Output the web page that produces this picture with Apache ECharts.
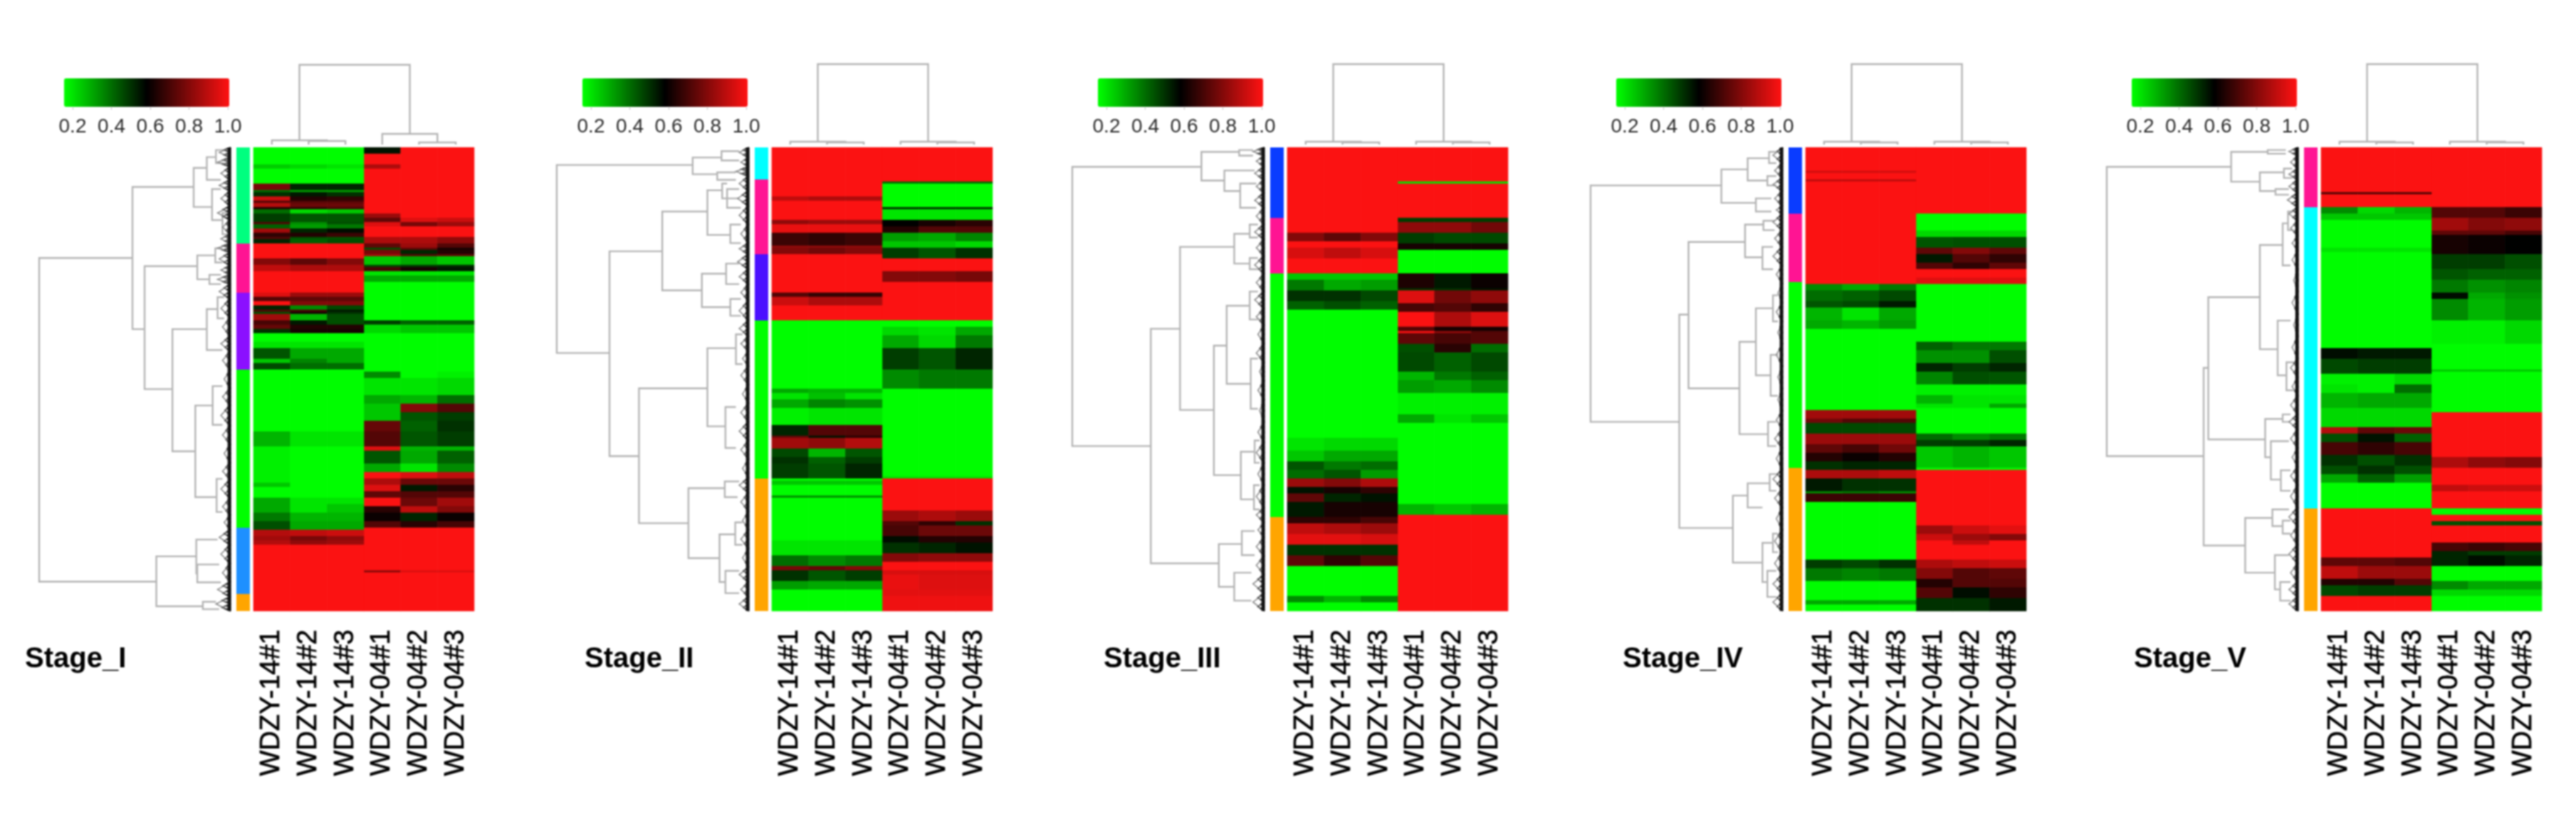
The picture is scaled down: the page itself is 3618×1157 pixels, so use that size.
<!DOCTYPE html>
<html><head><meta charset="utf-8">
<style>html,body{margin:0;padding:0;background:#fff}#c{width:3618px;height:1157px}canvas{filter:blur(0.8px)}</style>
<script src="https://cdn.jsdelivr.net/npm/echarts@6/dist/echarts.min.js"></script>
</head><body><div id="c"></div>
<script>
const sampleLabels=['WDZY-14#1','WDZY-14#2','WDZY-14#3','WDZY-04#1','WDZY-04#2','WDZY-04#3'];
const stageNames=['Stage_I','Stage_II','Stage_III','Stage_IV','Stage_V'];
const colorbarTicks=[0.2,0.4,0.6,0.8,1.0];
const G=0.16;
// heat bands: [band end along the row axis, value col A, col B, col C]; one value = same in all three
const s1Left=[[331,G],[341,.24,.22,.2],[382,G],[395,.78,.52,.52],[405,.4,.32,.32],[414,.5,.54,.5],[427,.92,.64,.66],[433,.72],[443,.88,.76,.76],[449,.64,.66,.7],[462,.4,.22,.25],[484,.48,.44,.44],[491,.72,.35,.45],[503,.42,.32,.38],[513,.85,.52,.56],[526,.66,.64,.68],[532,.72,.44,.44],[541,.52,.42,.45],[583,1],[599,.8,.74,.8],[615,.9,.87,.87],[676,1],[685,.95,.84,.84],[695,.72,.74,.74],[707,1,.8,.8],[717,.52,.35,.46],[723,.72,.7,.54],[733,.45,.62,.5],[746,.85,.28,.45],[758,.7,.54,.45],[771,.75,.64,.64],[784,.5,.62,.62],[803,G],[823,.2],[851,.44,.3,.3],[863,.25,.36,.3],[882,.46,.4,.4],[1044,G],[1085,.28,.2,.2],[1181,.18,G,G],[1197,.25,G,G],[1222,G],[1242,.3,.2,.2],[1262,.3,.2,.25],[1286,.38,.28,.28],[1309,.45,.3,.3],[1326,.88,.9,.92],[1338,.85,.78,.82],[1350,.88,.82,.84],[1528,1]];
const s1Right=[[300,.55,1,1],[328,1],[341,.87,1,1],[462,1],[475,.84,1,1],[481,.74,.95,.92],[497,.95,.78,.84],[526,1],[542,.87,.87,.82],[551,.74,.84,.72],[561,.45,.74,.62],[567,.78,.52,.64],[577,.85,.72,.74],[596,.25,.3,.25],[605,.46,.48,.5],[615,.7,.62,.54],[628,.2],[644,.3],[749,G],[762,.48,.42,.42],[784,.22,.25,.25],[883,G],[904,.35,G,.18],[948,.2,.2,.22],[972,.3,.28,.4],[992,.25,.8,.72],[1020,.25,.44,.48],[1044,.75,.42,.5],[1085,.72,.44,.48],[1097,.95,.28,.28],[1133,.44,.3,.42],[1156,.3,.2,.35],[1173,1,.95,.9],[1189,.87,.76,.76],[1206,.95,.54,.65],[1222,.74,.72,.72],[1246,1,.76,.85],[1262,.65,.9,.8],[1286,.6,.52,.6],[1306,.72,.65,.7],[1420,1],[1426,.82,.95,.95],[1528,1]];
const s2Left=[[415,1],[425,.9,.87,.87],[478,1],[492,.82,.84,.84],[515,.97],[545,.68,.66,.68],[550,.82],[570,.8,.77,.8],[672,1],[682,.72,.67,.67],[708,.92,.87,.87],[748,1],[930,G],[945,.3,.28,.28],[960,.2,.26,.2],[985,.3,.36,.34],[1030,.18,.2,.2],[1055,.52,.72,.72],[1065,.75,.55,.65],[1090,.85,.82,.88],[1115,.46,.28,.44],[1130,.5,.42,.48],[1170,.48,.44,.52],[1180,G],[1190,.25],[1220,G],[1226,.35],[1340,G],[1380,.2],[1405,.4,.35,.38],[1420,.78,.75,.8],[1445,.5,.44,.48],[1470,.32,.3,.3],[1528,G]];
const s2Right=[[372,1],[380,.4],[442,G],[450,.5],[478,.2],[495,.58,.62,.65],[515,.64,.72,.72],[535,.32,.3,.36],[555,.25,.25,.22],[580,.48,.44,.5],[618,1],[642,.8,.8,.78],[748,1],[765,G],[790,.22,.2,.3],[825,.3,.22,.38],[880,.48,.44,.52],[930,.35,.38,.38],[1165,G],[1172,.2],[1260,1],[1285,.84,.87,.84],[1300,.72,.66,.5],[1325,.7,.76,.76],[1345,.56,.64,.64],[1375,.5,.52,.55],[1395,.8,.82,.82],[1420,1],[1430,.94],[1470,.97,.95,.95],[1490,.96],[1528,.98]];
const s3Left=[[512,1],[535,.8,.74,.8],[550,1],[580,.94,.9,.94],[622,1],[640,.25],[670,.38,.3,.32],[695,.5,.5,.46],[720,.42,.45,.42],[1065,G],[1095,.2,.22,.22],[1125,.25,.3,.3],[1150,.44,.38,.4],[1172,.4,.44,.32],[1195,.84,.8,.87],[1215,.55,.62,.66],[1235,.74,.52,.55],[1275,.54,.62,.62],[1290,.66,.66,.7],[1320,.9,.87,.84],[1348,.96,.96,.94],[1380,.5],[1410,.74,.66,.72],[1490,G],[1505,.35,.28,.35],[1528,G]];
const s3Right=[[372,1],[380,.2],[472,1],[485,.48],[512,.82,.82,.77],[540,.48,.46,.46],[558,.62],[622,G],[660,.63,.54,.6],[670,.5,.5,.55],[700,.95,.77,.82],[725,.7,.72,.66],[765,1,.87,.95],[775,.72,.62,.62],[785,1,.82,.72],[810,.74,.7,.72],[835,.45,.65,.4],[885,.46,.42,.46],[910,.28,.38,.42],[945,.32,.3,.35],[1000,.18],[1025,.3,.2,.25],[1240,G],[1272,.28,.25,.28],[1528,1]];
const s4Left=[[345,1],[350,.93],[368,1],[372,.9],[545,1],[548,.9],[650,1],[670,.35,.3,.38],[695,.4,.42,.46],[715,.44,.46,.54],[745,.28,.2,.3],[770,.3,.28,.32],[990,G],[1010,.85],[1025,.77,.72,.72],[1050,.46],[1080,.84],[1105,.74,.7,.77],[1125,.64,.6,.64],[1148,.5,.52,.52],[1170,.87,.87,.9],[1205,.54,.5,.5],[1215,.35,.38,.35],[1235,.68],[1388,G],[1415,.48,.46,.5],[1445,.38,.36,.38],[1500,G],[1510,.3],[1528,G]];
const s4Right=[[462,1],[505,G],[525,.22],[550,.44,.45,.45],[570,.74,.8,.74],[590,.54,.72,.66],[612,.72,.66,.74],[635,1],[648,.95],[805,G],[830,.42,.38,.38],[865,.34,.34,.45],[885,.52,.48,.52],[918,.36,.45,.44],[950,.18],[970,.28,.2,.2],[985,.2,.2,.3],[1050,G],[1070,.4,.35,.38],[1085,.48,.48,.52],[1145,.25,.28,.25],[1148,G],[1300,1],[1320,.84,.92,.96],[1340,.92,.84,.8],[1352,1,.9,1],[1390,1],[1415,.87,.9,.92],[1440,.8,.72,.74],[1465,.64,.72,.72],[1495,.72,.56,.66],[1528,.5,.5,.54]];
const s5Left=[[405,1],[412,.72],[443,1],[460,.35,.22,.28],[480,.25],[555,G],[565,.2],[820,G],[850,.56,.54,.54],[890,.46,.48,.48],[920,.18,.18,.22],[945,.2,.18,.4],[985,.28,.3,.3],[1035,.22],[1050,.88,.74,.76],[1075,.45,.55,.42],[1110,.7,.66,.7],[1135,.5,.45,.5],[1160,.45,.5,.45],[1185,.3,.42,.32],[1250,G],[1385,1],[1410,.74,.74,.72],[1440,.9,.84,.84],[1460,.64,.64,.72],[1485,.46,.48,.48],[1528,1]];
const s5Right=[[443,1],[470,.72,.72,.68],[505,.85,.8,.82],[520,.74,.74,.7],[570,.62,.6,.58],[610,.48,.48,.45],[640,.44,.42,.42],[675,.38,.34,.36],[690,.56,.3,.34],[745,.35,.28,.32],[810,.18,.18,.22],[880,G],[888,.25],[995,G],[1115,1],[1145,.87,.82,.8],[1190,1],[1205,.9,.92,.92],[1250,1],[1268,G],[1285,1],[1298,.45],[1342,1],[1365,.7,.68,.7],[1380,.52,.48,.48],[1405,.52,.56,.52],[1445,G],[1470,.35,.3,.3],[1490,.22],[1528,G]];
// module sizes (rows) and colours
const s1Sizes=[45,23,36,74,31,8], s1Colors=['#00ff7f','#ff1493','#8b10ff','#00ff00','#1e90ff','#ffa500'];
const s2Sizes=[15,35,31,74,62],   s2Colors=['#00ffff','#ff1493','#4b10ff','#00ff00','#ffa500'];
const s3Sizes=[33,26,114,44],     s3Colors=['#0a3cff','#ff1493','#00ff00','#ffa500'];
const s4Sizes=[31,32,87,67],      s4Colors=['#0a3cff','#ff1493','#00ff00','#ffa500'];
const s5Sizes=[28,141,48],        s5Colors=['#ff1493','#00ffff','#ffa500'];
// row dendrogram merges: [pos1, pos2, height, child height 1, child height 2]
const s1Tree=[[580,1449,585,300,227],[389,771,300,113,263],[338,443,113,73,57],[309,370,73,45,30],[290,325,45,20,20],[395,478,57,30,25],[459,516,25,10,10],[602,932,263,102,178],[573,637,102,47,65],[554,592,47,25,25],[625,650,65,30,30],[771,1099,178,73,108],[717,827,73,40,25],[685,742,40,20,20],[976,1222,108,55,43],[924,1028,55,25,25],[1173,1262,43,25,25],[1381,1515,227,105,85],[1336,1427,105,40,102],[1403,1451,102,35,30],[1503,1523,85,45,35]];
const s2Tree=[[330,835,587,172,426],[310,355,172,84,97],[293,318,84,30,30],[350,370,97,40,40],[562,1112,426,265,336],[455,667,265,127,144],[398,518,127,82,57],[380,420,82,67,30],[395,445,67,30,25],[490,540,57,25,25],[622,712,144,70,57],[595,650,70,30,30],[690,735,57,25,25],[930,1292,336,127,185],[822,1032,127,40,72],[785,865,40,20,20],[980,1090,72,40,40],[1198,1386,185,74,90],[1180,1222,74,30,35],[1322,1450,90,42,72],[1290,1350,42,20,20],[1420,1480,72,30,30]];
const s3Tree=[[335,1085,585,192,346],[295,372,192,77,122],[290,305,77,35,35],[345,400,122,30,74],[380,445,74,25,25],[770,1400,346,257,139],[550,988,257,92,154],[515,595,92,45,45],[490,525,45,20,20],[580,610,45,20,20],[815,1163,154,115,72],[708,918,115,45,42],[670,745,45,20,20],[850,985,42,20,20],[1100,1228,72,30,32],[1070,1130,30,15,15],[1190,1255,32,15,15],[1348,1463,139,69,92],[1313,1378,69,30,30],[1425,1500,92,40,40]];
const s4Tree=[[385,1020,585,187,315],[342,432,187,107,82],[312,372,107,42,47],[295,325,42,20,20],[360,385,47,20,20],[420,455,82,35,35],[732,1305,315,287,152],[537,930,287,115,132],[490,578,115,59,62],[480,505,59,25,25],[550,610,62,30,30],[805,1053,132,82,45],[715,895,82,30,37],[680,750,30,15,15],[840,950,37,15,15],[1020,1085,45,20,20],[1218,1398,152,107,62],[1185,1250,107,40,62],[1160,1205,40,20,20],[1345,1450,62,30,47],[1320,1370,30,15,15],[1420,1490,47,20,20]];
const s5Tree=[[335,1112,613,215,303],[295,375,215,98,123],[290,300,98,40,40],[350,400,123,46,73],[340,365,46,20,20],[395,410,73,30,30],[875,1352,303,288,170],[685,1067,288,123,106],[545,825,123,50,66],[487,600,50,33,25],[455,505,33,15,15],[748,895,66,25,38],[860,935,38,15,15],[1012,1115,106,50,88],[1000,1020,50,25,25],[1072,1175,88,30,56],[1150,1205,56,25,25],[1278,1425,170,83,75],[1255,1300,83,30,50],[1285,1320,50,25,25],[1378,1470,75,30,58],[1450,1500,58,25,25]];
// fine leaf clusters at the tip of each row tree: [cluster end, depth]
const s1Fringe=[[310,35],[335,40],[370,30],[400,35],[440,30],[478,40],[516,25],[541,30],[565,40],[600,35],[625,30],[650,40],[690,35],[740,30],[790,25],[830,30],[880,25],[930,20],[975,25],[1030,30],[1080,25],[1130,20],[1175,25],[1225,30],[1270,25],[1310,20],[1350,35],[1400,30],[1450,25],[1490,40],[1528,45]];
const s2Fringe=[[310,30],[335,25],[360,40],[400,30],[440,35],[490,30],[540,25],[570,30],[610,35],[650,30],[695,25],[748,30],[790,30],[830,25],[870,20],[920,25],[970,20],[1020,25],[1070,30],[1120,25],[1170,20],[1210,30],[1260,25],[1310,20],[1360,25],[1410,20],[1450,30],[1490,25],[1528,30]];
const s3Fringe=[[305,35],[335,25],[370,30],[405,25],[445,30],[490,25],[530,30],[575,25],[622,30],[670,25],[715,30],[760,25],[810,20],[860,25],[910,15],[960,20],[1020,15],[1075,20],[1130,25],[1190,20],[1250,25],[1290,25],[1330,20],[1380,25],[1430,25],[1480,35],[1528,35]];
const s4Fringe=[[325,30],[365,25],[400,30],[440,25],[462,20],[505,30],[550,25],[600,30],[648,20],[700,15],[750,20],[810,15],[870,20],[930,15],[990,15],[1040,20],[1090,25],[1147,20],[1200,30],[1250,25],[1310,20],[1370,25],[1430,25],[1480,30],[1528,30]];
const s5Fringe=[[305,30],[340,25],[370,30],[405,30],[443,35],[480,30],[520,25],[560,20],[610,20],[670,15],[730,20],[790,15],[850,20],[900,25],[950,20],[1000,25],[1040,30],[1090,25],[1140,20],[1190,25],[1250,25],[1300,30],[1350,25],[1400,30],[1450,25],[1490,30],[1528,30]];
// column dendrograms: [col pos 1, col pos 2, height, child height 1, child height 2]
const s1TopTree=[[1.25,4.25,112,6,15],[.5,2,6,0,5],[1.5,2.5,5,0,0],[3.5,5,15,0,3],[4.5,5.5,3,0,0]];
const s2TopTree=[[1.25,4.25,113,4,4],[.5,2,4,0,3],[1.5,2.5,3,0,0],[3.5,5,4,0,3],[4.5,5.5,3,0,0]];
const s3TopTree=s2TopTree, s4TopTree=s2TopTree, s5TopTree=s2TopTree;

const panels=[
 {left:s1Left,right:s1Right,sizes:s1Sizes,colors:s1Colors,tree:s1Tree,fringe:s1Fringe,top:s1TopTree,heatX:356,rootX:55,treeMax:585,titleX:35},
 {left:s2Left,right:s2Right,sizes:s2Sizes,colors:s2Colors,tree:s2Tree,fringe:s2Fringe,top:s2TopTree,heatX:1084,rootX:782,treeMax:587,titleX:821},
 {left:s3Left,right:s3Right,sizes:s3Sizes,colors:s3Colors,tree:s3Tree,fringe:s3Fringe,top:s3TopTree,heatX:1808,rootX:1506,treeMax:585,titleX:1550},
 {left:s4Left,right:s4Right,sizes:s4Sizes,colors:s4Colors,tree:s4Tree,fringe:s4Fringe,top:s4TopTree,heatX:2536,rootX:2234,treeMax:585,titleX:2279},
 {left:s5Left,right:s5Right,sizes:s5Sizes,colors:s5Colors,tree:s5Tree,fringe:s5Fringe,top:s5TopTree,heatX:3260,rootX:2959,treeMax:613,titleX:2997}
];
const ROWS=217, Z0=283, Z1=1528, HEAT_TOP=207, HEAT_H=651, HEAT_W=310;
const rowNames=Array.from({length:ROWS},(_,i)=>String(i));
const FONT='"Liberation Sans", Arial, sans-serif';
function bandAt(bands,z){for(const b of bands){if(z<=b[0])return b;}return bands[bands.length-1];}
function cells(p){
  const out=[];
  for(let r=0;r<ROWS;r++){
    const z=Z0+(r+.5)*(Z1-Z0)/ROWS, a=bandAt(p.left,z), b=bandAt(p.right,z);
    for(let k=0;k<3;k++){
      out.push([k,r,a.length>2?a[k+1]:a[1]]);
      out.push([k+3,r,b.length>2?b[k+1]:b[1]]);
    }
  }
  return out;
}
function bracketItem(horizontal,color,width){
  return function(params,api){
    const a=api.value(0),b=api.value(1),h=api.value(2),h1=api.value(3),h2=api.value(4);
    const P=(pos,ht)=>horizontal?api.coord([ht,pos]):api.coord([pos,ht]);
    return {type:'polyline',shape:{points:[P(a,h1),P(a,h),P(b,h),P(b,h2)]},style:{stroke:color,lineWidth:width,fill:null}};
  };
}
function fringeItem(params,api){
  const a=api.value(0),b=api.value(1),d=api.value(2),m=(a+b)/2,q=(b-a)/4,e=(b-a)/8;
  const P=(pos,ht)=>api.coord([ht,pos]);
  const ln=(pts,c,w)=>({type:'polyline',shape:{points:pts},style:{stroke:c,lineWidth:w,fill:null}});
  const kids=[ln([P(a,0),P(m,d),P(b,0)],'#8a8a8a',1.6),
    ln([P(a,0),P(a+q,d*.6),P(m,0)],'#555',1.5),
    ln([P(m,0),P(m+q,d*.6),P(b,0)],'#555',1.5)];
  for(let k=0;k<4;k++){const s=a+k*q;kids.push(ln([P(s,0),P(s+e,d*.35),P(s+q,0)],'#333',1.4));}
  return {type:'group',children:kids};
}
const grid=[],xAxis=[],yAxis=[],series=[],visualMap=[],title=[];
const hidden={show:false};
function addGrid(g,x,y){grid.push(Object.assign({containLabel:false},g));
  xAxis.push(Object.assign({gridIndex:grid.length-1},x));
  yAxis.push(Object.assign({gridIndex:grid.length-1},y));
  return grid.length-1;}
panels.forEach((p,i)=>{
  // heat map
  const gh=addGrid({left:p.heatX,top:HEAT_TOP,width:HEAT_W,height:HEAT_H},
    {type:'category',data:sampleLabels,axisLine:hidden,axisTick:hidden,splitLine:hidden,
     axisLabel:{rotate:90,margin:26,fontSize:38,fontFamily:FONT,color:'#000',interval:0,padding:[0,0,7,0],textBorderColor:'#000',textBorderWidth:0.7}},
    {type:'category',data:rowNames,inverse:true,show:false});
  visualMap.push({type:'continuous',seriesIndex:series.length,dimension:2,min:.156,max:1.007,calculable:false,hoverLink:false,
    orient:'horizontal',left:p.heatX-266,top:110,itemWidth:40,itemHeight:232,padding:0,
    inRange:{color:['#00ff00','#000000','#ff1212']}});
  series.push({type:'heatmap',xAxisIndex:gh,yAxisIndex:gh,data:cells(p),progressive:0,animation:false,silent:true,itemStyle:{borderWidth:0}});
  // module side bar
  const gs=addGrid({left:p.heatX-24,top:HEAT_TOP,width:19,height:HEAT_H},
    {type:'category',data:['module'],show:false},
    {type:'value',min:0,max:ROWS,inverse:true,show:false});
  p.sizes.forEach((v,k)=>series.push({type:'bar',stack:'m'+i,xAxisIndex:gs,yAxisIndex:gs,data:[v],barWidth:'100%',silent:true,animation:false,itemStyle:{color:p.colors[k]}}));
  // row dendrogram
  const gd=addGrid({left:p.rootX,top:HEAT_TOP,width:p.heatX-32-p.rootX,height:HEAT_H},
    {type:'value',min:0,max:p.treeMax,inverse:true,show:false},
    {type:'value',min:Z0,max:Z1,inverse:true,show:false});
  series.push({type:'custom',coordinateSystem:'cartesian2d',xAxisIndex:gd,yAxisIndex:gd,clip:false,silent:true,animation:false,
    data:p.tree,encode:{x:2,y:0},renderItem:bracketItem(true,'#b4b4b4',2.4)});
  const frData=p.fringe.map((f,k)=>[k?p.fringe[k-1][0]:Z0,f[0],f[1]]);
  series.push({type:'custom',coordinateSystem:'cartesian2d',xAxisIndex:gd,yAxisIndex:gd,clip:false,silent:true,animation:false,
    data:frData,encode:{x:2,y:0},renderItem:fringeItem});
  series.push({type:'line',xAxisIndex:gd,yAxisIndex:gd,data:[[4,Z0],[4,Z1]],showSymbol:false,silent:true,animation:false,lineStyle:{color:'#111',width:5}});
  // column dendrogram
  const gt=addGrid({left:p.heatX,top:90,width:HEAT_W,height:113},
    {type:'value',min:0,max:6,show:false},
    {type:'value',min:0,max:113,show:false});
  series.push({type:'custom',coordinateSystem:'cartesian2d',xAxisIndex:gt,yAxisIndex:gt,clip:false,silent:true,animation:false,
    data:p.top,encode:{x:0,y:2},renderItem:bracketItem(false,'#b4b4b4',2.4)});
  // colour-scale tick labels
  addGrid({left:p.heatX-266,top:150,width:232,height:1},
    {type:'value',min:.156,max:1.007,axisLine:hidden,splitLine:hidden,
     axisTick:{show:true,length:3,lineStyle:{color:'#bbb'},customValues:colorbarTicks},
     axisLabel:{margin:13,fontSize:28,fontFamily:FONT,color:'#2a2a2a',customValues:colorbarTicks,formatter:v=>Number(v).toFixed(1)}},
    {type:'value',show:false});
  title.push({text:stageNames[i],left:p.titleX,top:906,padding:0,textStyle:{fontSize:40,fontWeight:'bold',fontFamily:FONT,color:'#000'}});
});
const chart=echarts.init(document.getElementById('c'),null,{renderer:'canvas',width:3618,height:1157});
chart.setOption({backgroundColor:'#fff',animation:false,tooltip:{show:false},title,grid,xAxis,yAxis,visualMap,series});
</script></body></html>
